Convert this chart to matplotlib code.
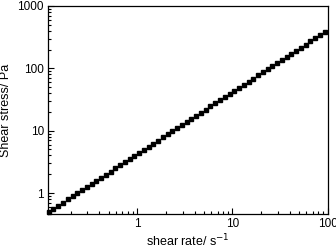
import matplotlib
matplotlib.use('Agg')
import matplotlib.pyplot as plt
from matplotlib.ticker import LogLocator, FuncFormatter, NullFormatter

plt.rcParams['font.family'] = ['Liberation Sans', 'DejaVu Sans']

# shear rate (1/s) and shear stress (Pa)
RATE = [0.1175, 0.1318, 0.1479, 0.1660, 0.1862, 0.2089, 0.2344, 0.2630, 0.2951, 0.3311,
        0.3715, 0.4169, 0.4677, 0.5248, 0.5888, 0.6607, 0.7413, 0.8318, 0.9333,
        1.047, 1.175, 1.318, 1.479, 1.660, 1.862, 2.089, 2.344, 2.630, 2.951, 3.311,
        3.715, 4.169, 4.677, 5.248, 5.888, 6.607, 7.413, 8.318, 9.333,
        10.47, 11.75, 13.18, 14.79, 16.60, 18.62, 20.89, 23.44, 26.30, 29.51, 33.11,
        37.15, 41.69, 46.77, 52.48, 58.88, 66.07, 74.13, 83.18, 93.33]
STRESS = [0.4995, 0.560, 0.628, 0.704, 0.790, 0.885, 0.993, 1.113, 1.248, 1.399,
          1.569, 1.759, 1.972, 2.212, 2.480, 2.780, 3.117, 3.495, 3.919,
          4.394, 4.927, 5.524, 6.194, 6.945, 7.787, 8.731, 9.790, 10.98, 12.31, 13.80,
          15.47, 17.35, 19.45, 21.81, 24.45, 27.42, 30.74, 34.47, 38.65,
          43.34, 48.60, 54.49, 61.09, 68.50, 76.81, 86.12, 96.56, 108.3, 121.4, 136.1,
          152.6, 171.1, 191.9, 215.1, 241.2, 270.5, 303.3, 340.0, 381.3]

fig = plt.figure(figsize=(3.36, 2.5), dpi=100)
ax = fig.add_axes([0.143, 0.144, 0.833, 0.832])

ax.plot(RATE, STRESS, linestyle='none', marker='s', ms=3.1, color='black', clip_on=False)

ax.set_xscale('log')
ax.set_yscale('log')
ax.set_xlim(0.1156, 101)
ax.set_ylim(0.461, 1000)

fmt = FuncFormatter(lambda v, p: '%g' % v)
for a in (ax.xaxis, ax.yaxis):
    a.set_major_locator(LogLocator(base=10))
    a.set_minor_locator(LogLocator(base=10, subs=range(2, 10)))
    a.set_major_formatter(fmt)
    a.set_minor_formatter(NullFormatter())

ax.tick_params(which='both', direction='in', top=False, right=False, labelsize=8.5,
               width=0.8, pad=3)
ax.tick_params(which='major', length=4)
ax.tick_params(which='minor', length=2)
for s in ax.spines.values():
    s.set_linewidth(0.9)

ax.set_xlabel('shear rate/ s$^{-1}$', fontsize=9, labelpad=2)
ax.set_ylabel('Shear stress/ Pa', fontsize=9, labelpad=4)

plt.savefig('out.png', dpi=100)
